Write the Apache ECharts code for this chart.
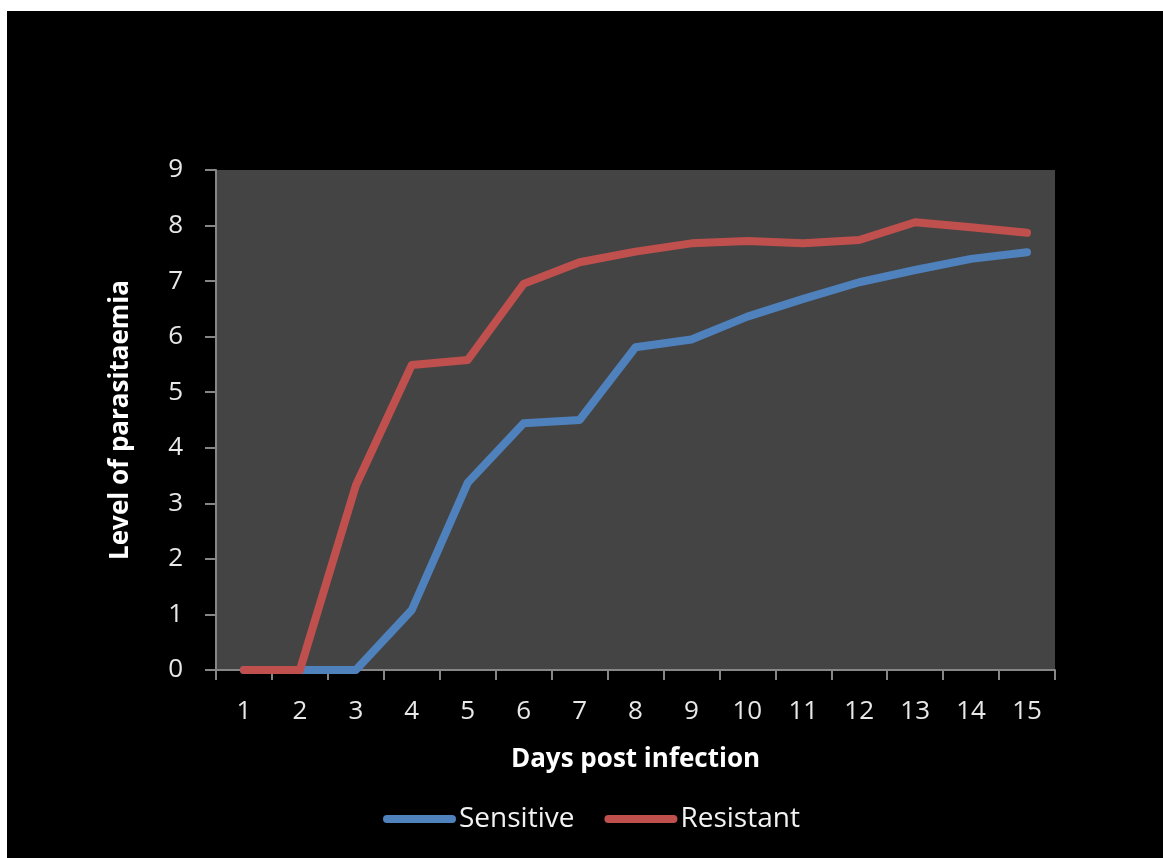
<!DOCTYPE html>
<html>
<head>
<meta charset="utf-8">
<style>
  html, body { margin: 0; padding: 0; background: #ffffff; }
  #chart { width: 1163px; height: 858px; }
</style>
<script src="https://cdn.jsdelivr.net/npm/echarts@6/dist/echarts.min.js"></script>
</head>
<body>
<div id="chart"></div>
<script>
// Days post infection (category axis)
const days = ['1','2','3','4','5','6','7','8','9','10','11','12','13','14','15'];
// Level of parasitaemia per day
const sensitive = [0, 0, 0, 1.08, 3.37, 4.44, 4.5, 5.81, 5.95, 6.36, 6.68, 6.98, 7.2, 7.4, 7.52];
const resistant = [0, 0, 3.32, 5.49, 5.58, 6.95, 7.34, 7.53, 7.68, 7.72, 7.68, 7.74, 8.06, 7.97, 7.87];

const FONT = '"Open Sans", Lato, sans-serif';
const legendIcon = 'path://M4,0 H69 A4,4 0 0 1 69,8 H4 A4,4 0 0 1 4,0 Z';

const chart = echarts.init(document.getElementById('chart'), null, { renderer: 'canvas' });

chart.setOption({
  backgroundColor: '#000000',
  animation: false,
  textStyle: { fontFamily: FONT },
  graphic: [
    // light frame along the top and left edges
    { type: 'rect', left: 0, top: 0, shape: { width: 1163, height: 11 }, style: { fill: '#ffffff' }, z: 100 },
    { type: 'rect', left: 0, top: 0, shape: { width: 7, height: 858 }, style: { fill: '#ffffff' }, z: 100 }
  ],
  grid: {
    left: 216, right: 108, top: 170, bottom: 188,
    show: true, backgroundColor: '#444444', borderWidth: 0
  },
  legend: {
    left: 383, top: 805,
    padding: 0,
    itemWidth: 73, itemHeight: 8, itemGap: 30,
    icon: legendIcon,
    textStyle: { color: '#f2f2f2', fontSize: 28, fontFamily: FONT, padding: [0, 0, 0, -2] },
    data: ['Sensitive', 'Resistant']
  },
  xAxis: {
    type: 'category',
    data: days,
    boundaryGap: true,
    name: 'Days post infection',
    nameLocation: 'middle',
    nameGap: 77,
    nameTextStyle: { color: '#ffffff', fontSize: 26, fontWeight: 'bold', fontFamily: FONT },
    axisLine: { lineStyle: { color: '#868686', width: 2 } },
    axisTick: { show: true, length: 10, alignWithLabel: false, lineStyle: { color: '#868686', width: 2 } },
    axisLabel: { color: '#e8e8e8', fontSize: 26, margin: 29, fontFamily: FONT },
    splitLine: { show: false }
  },
  yAxis: {
    type: 'value',
    min: 0, max: 9, interval: 1,
    name: 'Level of parasitaemia',
    nameLocation: 'middle',
    nameGap: 82,
    nameRotate: 90,
    nameTextStyle: { color: '#ffffff', fontSize: 26, fontWeight: 'bold', fontFamily: FONT },
    axisLine: { show: true, lineStyle: { color: '#868686', width: 2 } },
    axisTick: { show: true, length: 11, lineStyle: { color: '#868686', width: 2 } },
    axisLabel: { color: '#e8e8e8', fontSize: 26, margin: 33, fontFamily: FONT },
    splitLine: { show: false }
  },
  series: [
    {
      name: 'Sensitive',
      type: 'line',
      data: sensitive,
      showSymbol: false,
      symbol: 'none',
      color: '#4f81bd',
      lineStyle: { width: 8, color: '#4f81bd', cap: 'round', join: 'round' },
      z: 2
    },
    {
      name: 'Resistant',
      type: 'line',
      data: resistant,
      showSymbol: false,
      symbol: 'none',
      color: '#c0504d',
      lineStyle: { width: 8, color: '#c0504d', cap: 'round', join: 'round' },
      z: 3
    }
  ]
});
</script>
</body>
</html>
